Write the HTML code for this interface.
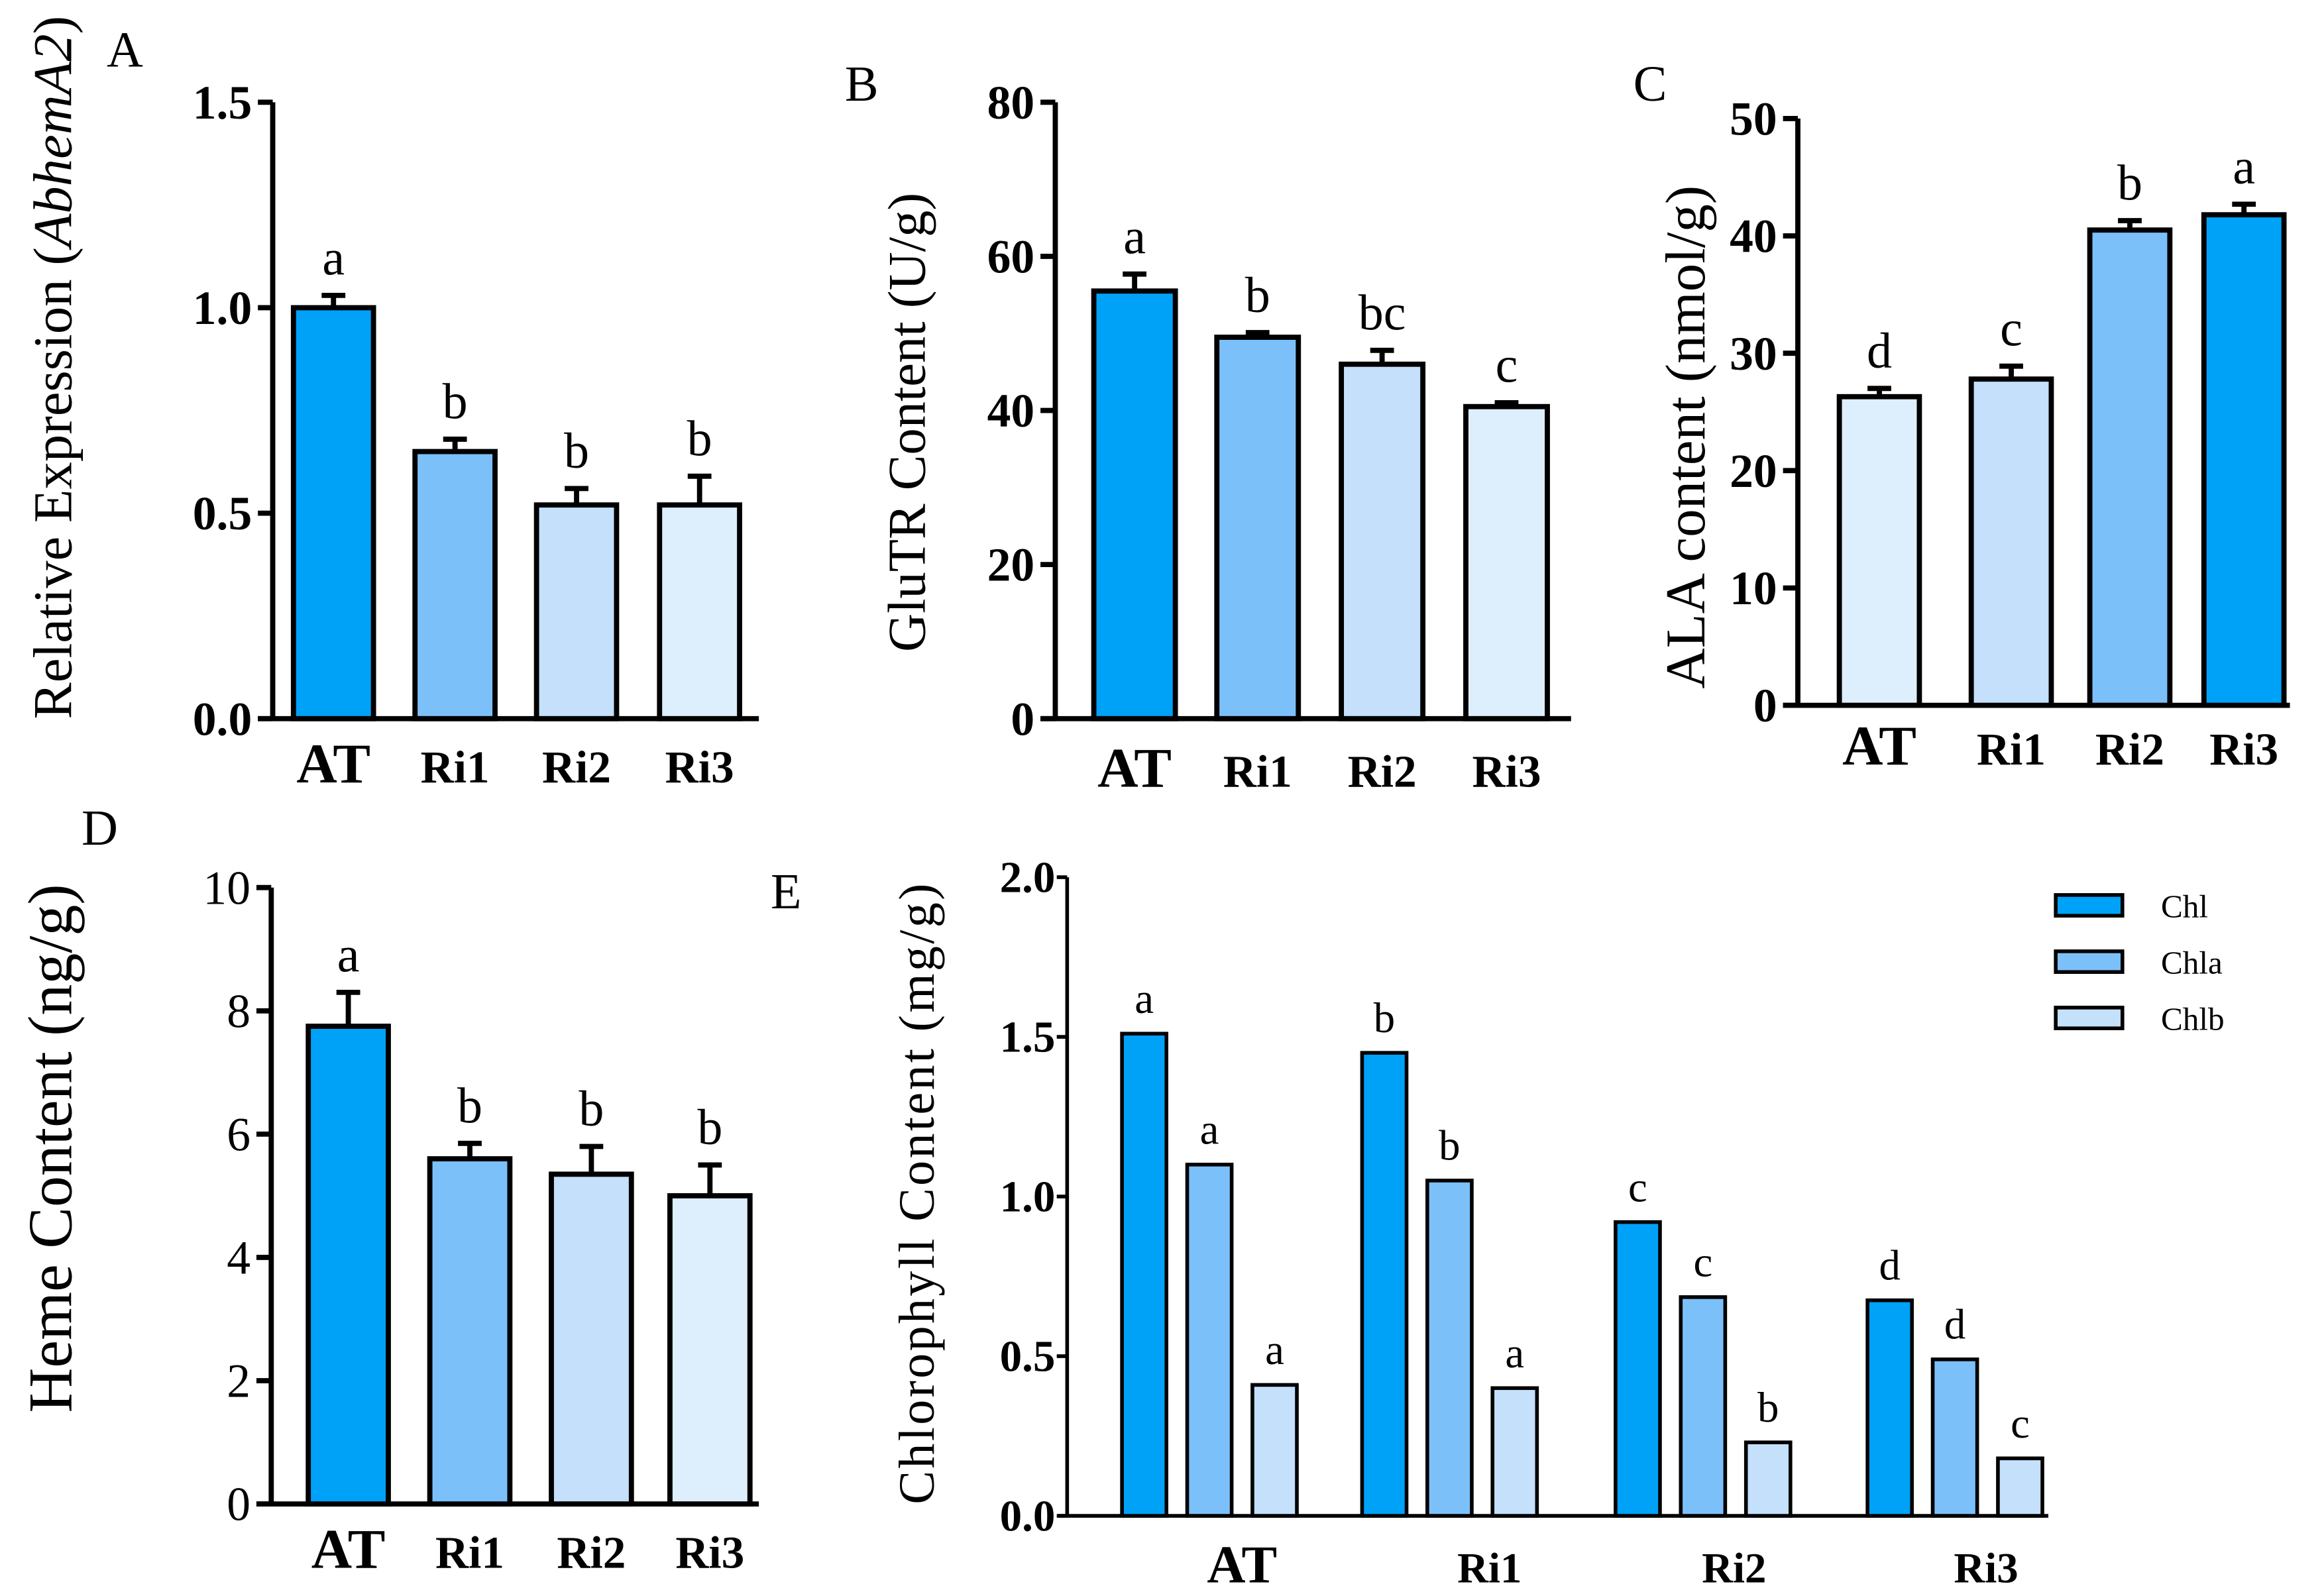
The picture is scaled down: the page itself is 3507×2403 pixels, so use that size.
<!DOCTYPE html>
<html><head><meta charset="utf-8"><style>
html,body{margin:0;padding:0;background:#fff}
svg{display:block}
text{font-family:"Liberation Serif",serif;fill:#000}
</style></head><body>
<svg id="fig" width="3507" height="2403" viewBox="0 0 1568 1074.4" xmlns="http://www.w3.org/2000/svg">
<rect width="1568" height="1075" fill="#fff"/>
<text x="72" y="45" font-size="34">A</text>
<text x="570" y="68" font-size="34">B</text>
<text x="1102" y="68" font-size="34">C</text>
<text x="55" y="570" font-size="34">D</text>
<text x="520" y="613" font-size="34">E</text>
</svg>
<script>
// Panel A
const aCats = ["AT","Ri1","Ri2","Ri3"];
const aVals = [1.0,0.65,0.52,0.52];
const aErr = [0.03,0.03,0.04,0.07];
const aLetters = ["a","b","b","b"];
const aTicks = ["0.0","0.5","1.0","1.5"];
// Panel B
const bCats = ["AT","Ri1","Ri2","Ri3"];
const bVals = [55.5,49.5,46,40.5];
const bErr = [2.2,0.6,1.8,0.5];
const bLetters = ["a","b","bc","c"];
const bTicks = ["0","20","40","60","80"];
// Panel C
const cCats = ["AT","Ri1","Ri2","Ri3"];
const cVals = [26.3,27.8,40.5,41.8];
const cErr = [0.7,1.1,0.8,0.9];
const cLetters = ["d","c","b","a"];
const cTicks = ["0","10","20","30","40","50"];
// Panel D
const dCats = ["AT","Ri1","Ri2","Ri3"];
const dVals = [7.75,5.6,5.35,5.0];
const dErr = [0.55,0.25,0.45,0.5];
const dLetters = ["a","b","b","b"];
const dTicks = ["0","2","4","6","8","10"];
// Panel E
const eCats = ["AT","Ri1","Ri2","Ri3"];
const eSeries = ["Chl","Chla","Chlb"];
const eChl = [1.51,1.45,0.92,0.675];
const eChla = [1.10,1.05,0.685,0.49];
const eChlb = [0.41,0.40,0.23,0.18];
const eLettersChl = ["a","b","c","d"];
const eLettersChla = ["a","b","c","d"];
const eLettersChlb = ["a","a","b","c"];
const eTicks = ["0.0","0.5","1.0","1.5","2.0"];

const NS="http://www.w3.org/2000/svg";
const svg=document.getElementById('fig');
function mk(tag,attrs,parent){const e=document.createElementNS(NS,tag);for(const k in attrs)e.setAttribute(k,attrs[k]);(parent||svg).appendChild(e);return e;}
function txt(s,attrs,parent){const e=mk('text',attrs,parent);e.textContent=s;return e;}

function barPanel(o){
  const g=mk('g',{});
  
  
  const y=v=>o.y0-(v-o.min)/(o.max-o.min)*(o.y0-o.y1);
  const ax=mk('line',{x1:o.ax,y1:o.y1,x2:o.ax,y2:o.y0,stroke:'#000','stroke-width':3.5},g);
  
  
  const xl=mk('line',{x1:o.ax-10,y1:o.y0,x2:o.xend,y2:o.y0,stroke:'#000','stroke-width':3.5},g);
  
  
  o.ticks.forEach(t=>{
    const v=parseFloat(t),yy=y(v);
    mk('line',{x1:o.ax-10,y1:yy,x2:o.ax,y2:yy,stroke:'#000','stroke-width':3.5},g);
    const tl=txt(t,{x:o.ax-14,y:yy+11,'font-size':32,'font-weight':o.tickBold?'bold':'normal','text-anchor':'end'},g);
    
    
  });
  o.vals.forEach((v,i)=>{
    const x=o.bx[i],w=o.bw;
    const top=y(v+o.err[i]);
    mk('line',{x1:x+w/2,y1:y(v),x2:x+w/2,y2:top,stroke:'#000','stroke-width':3.5},g);
    mk('line',{x1:x+w/2-8,y1:top,x2:x+w/2+8,y2:top,stroke:'#000','stroke-width':3.5},g);
    const r=mk('rect',{x:x,y:y(v),width:w,height:o.y0-y(v),fill:o.colors[i],stroke:'#000','stroke-width':3.5},g);
    
    
    const lt=txt(o.letters[i],{x:x+w/2,y:top-14,'font-size':34,'text-anchor':'middle'},g);
    
    
    const cl=txt(o.cats[i],{x:x+w/2,y:o.labY,'font-size':i===0?38:31,'font-weight':'bold','text-anchor':'middle'},g);
    
    
  });
  const t=txt('',{transform:`translate(${o.tx},${o.ty}) rotate(-90)`,'font-size':o.ts,'text-anchor':'middle'},g);
  
  
  t.innerHTML=o.title;
}
const C=["#00a2f8","#7cc0fa","#c4e0fa","#ddeefc"];
barPanel({name:'panel-a',cats:aCats,vals:aVals,err:aErr,letters:aLetters,ticks:aTicks,min:0,max:1.5,ax:184,y0:485,y1:69,xend:512,bx:[198,280,362,445],bw:54,colors:C,labY:528,tx:48,ty:248,ts:37,tickBold:true,title:'Relative Expression (<tspan font-style="italic">AbhemA2</tspan>)'});
barPanel({name:'panel-b',cats:bCats,vals:bVals,err:bErr,letters:bLetters,ticks:bTicks,min:0,max:80,ax:712,y0:485,y1:69,xend:1060,bx:[738,821,905,989],bw:55,colors:C,labY:531,tx:624,ty:285,ts:36,tickBold:true,title:'GluTR Content (U/g)'});
barPanel({name:'panel-c',cats:cCats,vals:cVals,err:cErr,letters:cLetters,ticks:cTicks,min:0,max:50,ax:1213,y0:476,y1:80,xend:1545,bx:[1241,1330,1410,1487],bw:54,colors:[C[3],C[2],C[1],C[0]],labY:516,tx:1150,ty:295,ts:38,tickBold:true,title:'ALA content (nmol/g)'});
barPanel({name:'panel-d',cats:dCats,vals:dVals,err:dErr,letters:dLetters,ticks:dTicks,min:0,max:10,ax:183,y0:1015,y1:599,xend:512,bx:[208,290,372,452],bw:54,colors:C,labY:1058,tx:48,ty:775,ts:42,tickBold:false,title:'Heme Content (ng/g)'});

// Panel E
(function(){
  const g=mk('g',{});
  
  
  const y0=1023,y1=592,max=2.0;
  const y=v=>y0-v/max*(y0-y1);
  const ax=720;
  const a=mk('line',{x1:ax,y1:y1,x2:ax,y2:y0,stroke:'#000','stroke-width':2.5},g);
  
  
  const xa=mk('line',{x1:ax-6,y1:y0,x2:1382,y2:y0,stroke:'#000','stroke-width':2.5},g);
  
  
  eTicks.forEach(t=>{const yy=y(parseFloat(t));
    mk('line',{x1:ax-7,y1:yy,x2:ax,y2:yy,stroke:'#000','stroke-width':2.5},g);
    const tl=txt(t,{x:ax-8,y:yy+10,'font-size':30,'font-weight':'bold','text-anchor':'end'},g);
    
    });
  const series=[eChl,eChla,eChlb],lets=[eLettersChl,eLettersChla,eLettersChlb];
  const cols=["#00a2f8","#7cc0fa","#c4e0fa"];
  const gx=[757,919,1090,1260],labX=[838,1005,1170,1340],bw=30,step=44;
  eCats.forEach((c,i)=>{
    series.forEach((s,j)=>{
      const x=gx[i]+j*step,v=s[i];
      const r=mk('rect',{x:x,y:y(v),width:bw,height:y0-y(v),fill:cols[j],stroke:'#000','stroke-width':2.5},g);
      
      
      const l=txt(lets[j][i],{x:x+bw/2,y:y(v)-14,'font-size':29,'text-anchor':'middle'},g);
      
      
    });
    const cl=txt(c,{x:labX[i],y:1068,'font-size':i===0?36:29,'font-weight':'bold','text-anchor':'middle'},g);
    
    
  });
  eSeries.forEach((s,j)=>{
    const r=mk('rect',{x:1387,y:604+j*38,width:45,height:14,fill:cols[j],stroke:'#000','stroke-width':2.5},g);
    
    
    const t=txt(s,{x:1458,y:619+j*38,'font-size':22},g);
    
    
  });
  const t=txt('Chlorophyll Content (mg/g)',{transform:'translate(630,805) rotate(-90)','font-size':34,'text-anchor':'middle','letter-spacing':'1.5'},g);
  
  
})();
</script>
</body></html>
